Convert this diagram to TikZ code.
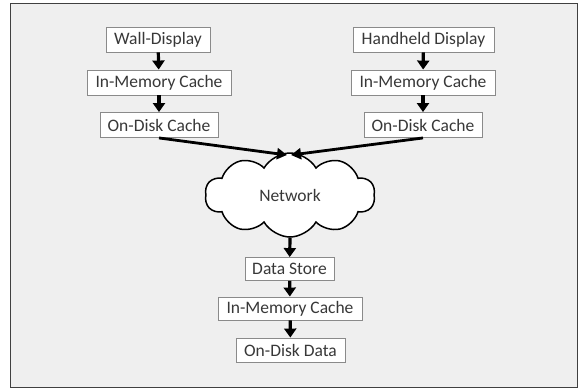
\documentclass[tikz,border=0pt]{standalone}
\usepackage{fontspec}
\setmainfont{Carlito}
\usetikzlibrary{shapes.symbols,arrows.meta}
\definecolor{bgc}{HTML}{EFEFEF}
\definecolor{txt}{HTML}{383838}
\definecolor{bord}{HTML}{8A8A8A}
\tikzset{
  box/.style={draw=bord, line width=0.9pt, fill=white, text=txt, font=\fontsize{17.5}{19}\selectfont,
    minimum height=25pt, inner sep=0pt, anchor=center},
  flow/.style={line width=3.2pt, -{Triangle[width=12pt,length=9pt]}},
  link/.style={line width=2.8pt, -{Triangle[width=11pt,length=10pt]}}
}
\begin{document}
\begin{tikzpicture}[x=1pt,y=-1pt]
\useasboundingbox (0,0) rectangle (578,389);
\fill[white] (0,0) rectangle (578,389);
\draw[fill=bgc, draw=black!75, line width=1pt] (10,3) rectangle (577,387);
% left column
\node[box, minimum width=104pt] (wd) at (158,39.5) {Wall-Display};
\node[box, minimum width=144pt] (lmc) at (159,82.5) {In-Memory Cache};
\node[box, minimum width=118pt] (ldc) at (159,125) {On-Disk Cache};
% right column
\node[box, minimum width=141pt] (hd) at (423.5,39.5) {Handheld Display};
\node[box, minimum width=144pt] (rmc) at (423,82.5) {In-Memory Cache};
\node[box, minimum width=118pt] (rdc) at (423,125) {On-Disk Cache};
% cloud
\node[cloud, draw=black, line width=1.5pt, fill=white, cloud puffs=10, cloud puff arc=120, aspect=2,
  minimum width=170pt, minimum height=84pt, inner sep=0pt, text=txt, font=\fontsize{17.5}{19}\selectfont] (net) at (290,195) {Network};
% bottom column
\node[box, minimum width=89pt, minimum height=23pt] (ds) at (289.5,269) {Data Store};
\node[box, minimum width=144pt, minimum height=23pt] (bmc) at (290,308.5) {In-Memory Cache};
\node[box, minimum width=109pt, minimum height=24pt] (od) at (290.5,350) {On-Disk Data};
\coordinate (tipL) at (287,155);
\coordinate (tipR) at (291,155);
% connectors
\draw[flow] (wd) -- (lmc);
\draw[flow] (lmc) -- (ldc);
\draw[flow] (hd) -- (rmc);
\draw[flow] (rmc) -- (rdc);
\draw[link] (ldc.south) -- (tipL);
\draw[link] (rdc.south) -- (tipR);
\draw[flow] (net.south) -- (ds);
\draw[flow] (ds) -- (bmc);
\draw[flow] (bmc) -- (od);
\end{tikzpicture}
\end{document}
